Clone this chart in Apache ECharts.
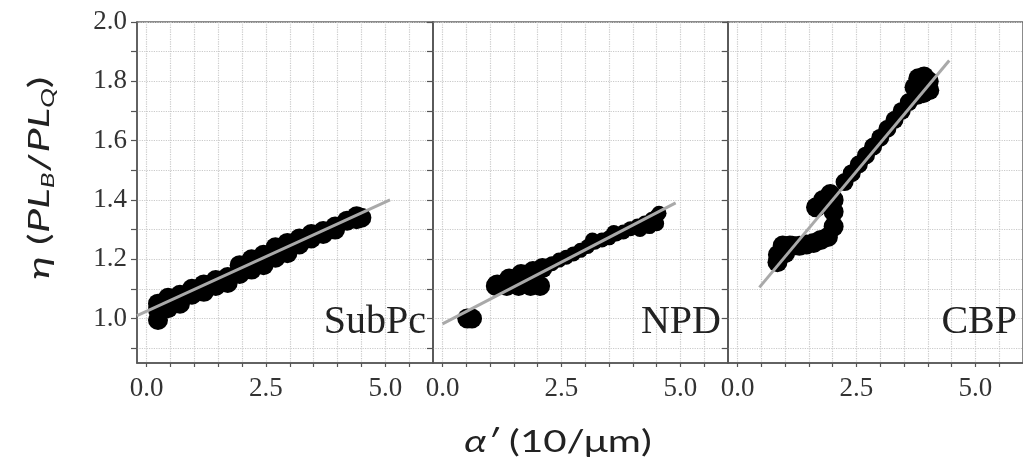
<!DOCTYPE html>
<html>
<head>
<meta charset="utf-8">
<script src="https://cdn.jsdelivr.net/npm/echarts@6/dist/echarts.min.js"></script>
<style>
  html, body { margin: 0; padding: 0; background: #ffffff; }
  #chart { width: 1023px; height: 465px; }
</style>
</head>
<body>
<div id="chart"></div>
<script>
// Panel names, one per material
const panelNames = ['SubPc', 'NPD', 'CBP'];

// Axis ticks and labels
const xLabelValues = [0, 2.5, 5];
const xTickValues = [0, 0.5, 1, 1.5, 2, 2.5, 3, 3.5, 4, 4.5, 5, 5.5];
const yLabelValues = [1.0, 1.2, 1.4, 1.6, 1.8, 2.0];
const yTickValues = [0.9, 1.0, 1.1, 1.2, 1.3, 1.4, 1.5, 1.6, 1.7, 1.8, 1.9, 2.0];

// SubPc measurements (alpha', eta)
const subpcPoints = [
  [0.24, 0.995], [0.24, 1.03], [0.24, 1.05],
  [0.45, 1.035], [0.45, 1.07],
  [0.7, 1.05], [0.7, 1.08],
  [0.95, 1.08], [0.95, 1.10],
  [1.2, 1.09], [1.2, 1.115],
  [1.45, 1.11], [1.45, 1.13],
  [1.7, 1.12], [1.7, 1.14],
  [1.95, 1.15], [1.95, 1.18],
  [2.2, 1.165], [2.2, 1.20],
  [2.45, 1.18], [2.45, 1.215],
  [2.7, 1.205], [2.7, 1.24],
  [2.95, 1.22], [2.95, 1.255],
  [3.2, 1.25], [3.2, 1.27],
  [3.45, 1.27], [3.45, 1.285],
  [3.7, 1.285], [3.7, 1.295],
  [3.95, 1.30], [3.95, 1.31],
  [4.2, 1.33], [4.4, 1.335], [4.4, 1.345], [4.5, 1.34]
];

// NPD measurements: dense cluster and the sparser upper run
const npdPoints = [
  [0.52, 1.0], [0.62, 1.0],
  [1.12, 1.11], [1.35, 1.11], [1.6, 1.11], [1.85, 1.11], [2.05, 1.11],
  [1.15, 1.115], [1.4, 1.135], [1.65, 1.15], [1.9, 1.16], [2.1, 1.17]
];
const npdUpperPoints = [
  [2.3, 1.185], [2.45, 1.197], [2.6, 1.207], [2.75, 1.218], [2.9, 1.23],
  [3.05, 1.243], [3.2, 1.257], [3.35, 1.265], [3.5, 1.272], [3.65, 1.285],
  [3.8, 1.292], [3.95, 1.303], [4.1, 1.312], [4.25, 1.322], [4.4, 1.335],
  [4.5, 1.345], [4.55, 1.355],
  [3.15, 1.265], [3.6, 1.29], [4.15, 1.30], [4.35, 1.31], [4.5, 1.32]
];

// CBP measurements
const cbpPoints = [
  [0.84, 1.19], [0.85, 1.215], [0.95, 1.246], [1.0, 1.22], [1.1, 1.246],
  [1.15, 1.245], [1.3, 1.245], [1.45, 1.25], [1.6, 1.255], [1.75, 1.265],
  [1.9, 1.275],
  [1.65, 1.375], [1.8, 1.40], [1.95, 1.42], [2.02, 1.40], [2.02, 1.36],
  [2.02, 1.31],
  [3.72, 1.78], [3.8, 1.81], [3.92, 1.816], [4.02, 1.80], [4.03, 1.77],
  [3.9, 1.76], [3.78, 1.755]
];
const cbpBandPoints = [
  [2.25, 1.46], [2.4, 1.49], [2.55, 1.52], [2.7, 1.55], [2.85, 1.58],
  [3.0, 1.61], [3.15, 1.64], [3.3, 1.67], [3.45, 1.70], [3.6, 1.73]
];

// Linear fits, given by their end points
const subpcFit = [[-0.2, 1.01], [5.1, 1.40]];
const npdFit = [[0.0, 0.982], [4.9, 1.39]];
const cbpFit = [[0.46, 1.105], [4.45, 1.87]];

const gridLefts = [137, 433, 728];
const gridWidths = [296, 295, 296];

const serif = '"Liberation Serif", "Times New Roman", serif';
const sans = 'Lato, "Open Sans", "Noto Sans", sans-serif';

const grids = gridLefts.map((l, i) => ({
  left: l, top: 22, width: gridWidths[i], height: 341,
  show: true, borderColor: '#666', borderWidth: 1.5, backgroundColor: 'transparent'
}));

const xAxes = panelNames.map((n, i) => ({
  type: 'value', gridIndex: i, min: -0.2, max: 6.0,
  axisLine: { show: true, onZero: false, lineStyle: { color: '#555', width: 1.5 } },
  axisTick: { show: true, inside: false, length: 4, customValues: xTickValues,
    lineStyle: { color: '#555', width: 1.2 } },
  axisLabel: { show: true, customValues: xLabelValues, margin: 12,
    formatter: v => v.toFixed(1),
    fontFamily: serif, fontSize: 27, color: '#333' },
  splitLine: { show: true, lineStyle: { color: '#cacaca', type: 'dotted', width: 1.2 } }
}));

const yAxes = panelNames.map((n, i) => ({
  type: 'value', gridIndex: i, min: 0.85, max: 2.0,
  axisLine: { show: true, onZero: false, lineStyle: { color: '#555', width: 1.5 } },
  axisTick: { show: true, inside: false, length: 6, customValues: yTickValues,
    lineStyle: { color: '#555', width: 1.2 } },
  axisLabel: { show: i === 0, customValues: yLabelValues, margin: 10,
    formatter: v => v.toFixed(1),
    fontFamily: serif, fontSize: 27, color: '#333' },
  splitLine: { show: true, lineStyle: { color: '#cacaca', type: 'dotted', width: 1.2 } }
}));

function blob(data, idx, size) {
  return {
    type: 'scatter', xAxisIndex: idx, yAxisIndex: idx, data: data,
    symbol: 'circle', symbolSize: size, silent: true, z: 2,
    itemStyle: { color: '#000', opacity: 1 }
  };
}
function fit(data, idx) {
  return {
    type: 'line', xAxisIndex: idx, yAxisIndex: idx, data: data,
    symbol: 'none', silent: true, z: 5,
    lineStyle: { color: '#a9a9a9', width: 3 }
  };
}

const series = [
  blob(subpcPoints, 0, 20), fit(subpcFit, 0),
  blob(npdPoints, 1, 20), blob(npdUpperPoints, 1, 15), fit(npdFit, 1),
  blob(cbpPoints, 2, 20), blob(cbpBandPoints, 2, 18), fit(cbpFit, 2)
];

const labelRight = [426, 721, 1017];
const graphic = panelNames.map((n, i) => ({
  type: 'text', x: labelRight[i], y: 342, z: 10, silent: true,
  style: { text: n, fontFamily: serif, fontSize: 40, fill: '#222',
    align: 'right', verticalAlign: 'bottom' }
}));

graphic.push({
  type: 'text', x: 40, y: 178, rotation: Math.PI / 2, scaleX: 1.55, silent: true,
  style: {
    text: '{i|η} ({i|PL}{s|B}/{i|PL}{s|Q})',
    align: 'center', verticalAlign: 'middle',
    fontFamily: sans, fontSize: 28, fill: '#222',
    rich: {
      i: { fontFamily: sans, fontSize: 28, fontStyle: 'italic', fill: '#222', lineHeight: 34 },
      s: { fontFamily: sans, fontSize: 17, fontStyle: 'italic', fill: '#222', verticalAlign: 'bottom', lineHeight: 17 }
    }
  }
});
graphic.push({
  type: 'text', x: 558, y: 442, scaleX: 1.3, silent: true,
  style: {
    text: '{i|α′} (10/μm)',
    align: 'center', verticalAlign: 'middle',
    fontFamily: sans, fontSize: 31, fill: '#222',
    rich: {
      i: { fontFamily: sans, fontSize: 31, fontStyle: 'italic', fill: '#222' }
    }
  }
});

const chart = echarts.init(document.getElementById('chart'));
chart.setOption({
  animation: false,
  backgroundColor: '#fff',
  grid: grids,
  xAxis: xAxes,
  yAxis: yAxes,
  series: series,
  graphic: graphic
});
</script>
</body>
</html>
